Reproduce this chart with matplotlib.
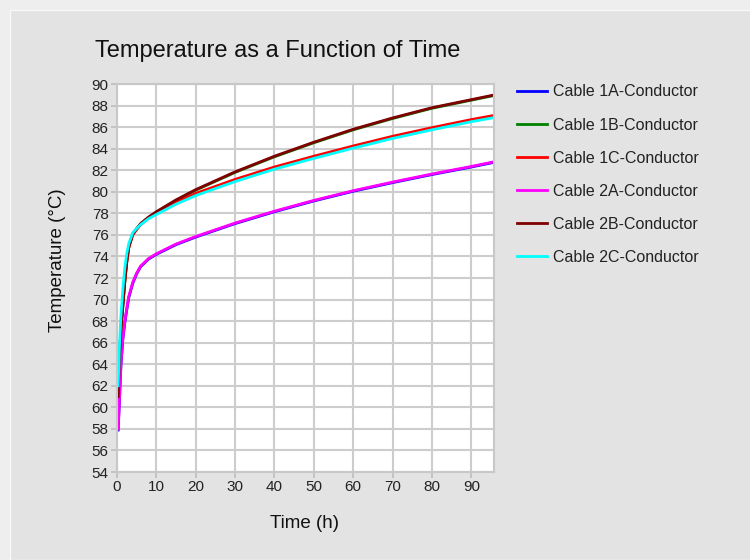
import matplotlib
matplotlib.use("Agg")
import matplotlib.pyplot as plt
from matplotlib.patches import Rectangle

# time points (h) and temperatures (°C)
time_h = [0.3, 0.6, 1, 1.5, 2, 2.5, 3, 4, 5, 6, 8, 10, 15, 20, 30, 40, 50, 60, 70, 80, 90, 96]

cable_1a = [57.9, 60.5, 63.9, 66.4, 67.9, 69.1, 70.2, 71.5, 72.4, 73.05, 73.75, 74.2, 75.1, 75.8,
            77.05, 78.15, 79.15, 80.05, 80.85, 81.6, 82.3, 82.75]
cable_1b = [61.0, 64.5, 67.2, 69.5, 71.8, 73.6, 74.9, 76.05, 76.55, 77.0, 77.6, 78.1, 79.2, 80.15,
            81.8, 83.25, 84.55, 85.75, 86.8, 87.75, 88.5, 88.95]
cable_1c = [61.0, 64.5, 67.2, 69.5, 71.7, 73.5, 74.8, 76.0, 76.5, 76.95, 77.55, 78.0, 79.0, 79.85,
            81.15, 82.3, 83.3, 84.25, 85.15, 85.95, 86.7, 87.1]
cable_2a = [58.0, 60.6, 64.0, 66.5, 68.0, 69.2, 70.3, 71.6, 72.45, 73.1, 73.8, 74.25, 75.15, 75.85,
            77.1, 78.2, 79.2, 80.1, 80.9, 81.65, 82.35, 82.8]
cable_2b = [61.0, 64.5, 67.2, 69.5, 71.8, 73.6, 74.9, 76.1, 76.6, 77.05, 77.65, 78.15, 79.25, 80.2,
            81.85, 83.3, 84.6, 85.8, 86.85, 87.8, 88.55, 89.0]
cable_2c = [62.0, 65.5, 68.5, 71.0, 73.0, 74.3, 75.2, 76.2, 76.6, 76.95, 77.5, 77.9, 78.85, 79.65,
            80.95, 82.1, 83.1, 84.05, 84.95, 85.75, 86.5, 86.9]

series_names = ["Cable 1A-Conductor", "Cable 1B-Conductor", "Cable 1C-Conductor",
                "Cable 2A-Conductor", "Cable 2B-Conductor", "Cable 2C-Conductor"]
series_values = [cable_1a, cable_1b, cable_1c, cable_2a, cable_2b, cable_2c]
series_colors = ["#0000ff", "#008000", "#ff0000", "#ff00ff", "#800000", "#00ffff"]

x_ticks = list(range(0, 100, 10))
y_ticks = list(range(54, 92, 2))

plt.rcParams['font.family'] = ['Liberation Sans', 'DejaVu Sans']

W, H = 750, 560
fig = plt.figure(figsize=(W / 100, H / 100), dpi=100, facecolor="#eeeeee")
# grey panel behind the chart
fig.patches.append(Rectangle((10 / W, 0), 1, 1 - 10 / H, transform=fig.transFigure,
                             facecolor="#e3e3e3", edgecolor="#f8f8f8", linewidth=1, zorder=-10))

ax = fig.add_axes([117 / W, 1 - 472 / H, 377 / W, 388 / H])
ax.set_zorder(1)
ax.set_facecolor("white")

for name, vals, col in zip(series_names, series_values, series_colors):
    ax.plot(time_h, vals, color=col, linewidth=2, label=name)

ax.set_xlim(0, 95.75)
ax.set_ylim(54, 90)
ax.set_xticks(x_ticks)
ax.set_yticks(y_ticks)
ax.grid(True, color="#cdcdcd", linewidth=1.5)
ax.set_axisbelow(True)
for sp in ax.spines.values():
    sp.set_color("#c8c8c8")
    sp.set_linewidth(1.5)
ax.tick_params(colors="#c0c0c0", labelcolor="#222222", labelsize=11, length=4, width=1.3, pad=2)

fig.text(95 / W, 1 - 57 / H, "Temperature as a Function of Time", fontsize=17,
         ha="left", va="baseline", color="#111111")
fig.text(305 / W, 1 - 524 / H, "Time (h)", fontsize=13.5, ha="center", va="center", color="#111111")
fig.text(57 / W, 1 - 260 / H, "Temperature (°C)", fontsize=13.5, rotation=90,
         ha="center", va="center", color="#111111")

leg = ax.legend(loc="upper left", bbox_to_anchor=(517 / W, 1 - 84.5 / H), bbox_transform=fig.transFigure,
                frameon=False, fontsize=11.5, handlelength=1.85, handletextpad=0.4,
                labelspacing=1.13, borderaxespad=0, borderpad=0)
for t in leg.get_texts():
    t.set_color("#222222")

fig.savefig("out.png", dpi=100, facecolor=fig.get_facecolor())
